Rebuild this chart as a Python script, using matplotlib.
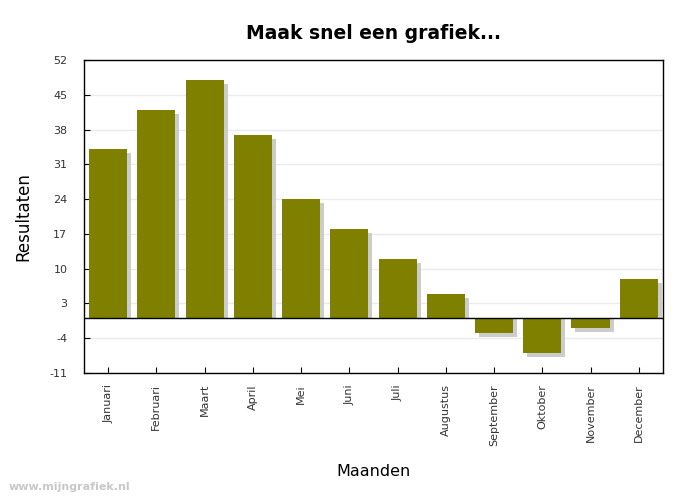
import numpy as np
import matplotlib.pyplot as plt

months = ['Januari', 'Februari', 'Maart', 'April', 'Mei', 'Juni', 'Juli',
          'Augustus', 'September', 'Oktober', 'November', 'December']
values = [34, 42, 48, 37, 24, 18, 12, 5, -3, -7, -2, 8]
yticks = [-11, -4, 3, 10, 17, 24, 31, 38, 45, 52]

plt.rcParams['font.family'] = ['DejaVu Sans']
plt.rcParams['axes.unicode_minus'] = False

fig = plt.figure(figsize=(7, 5), dpi=100)
ax = fig.add_axes([0.12, 0.254, 0.827, 0.626])

x = np.arange(len(months))
ymin, ymax = -11, 52
ax.set_xlim(-0.5, len(months) - 0.5)
ax.set_ylim(ymin, ymax)

# shadow offset: 4 px right and down, in data units
ax_w_px = 0.827 * 700
ax_h_px = 0.626 * 500
dx = 4 * len(months) / ax_w_px
dy = 4 * (ymax - ymin) / ax_h_px

vals = np.array(values, dtype=float)
ax.bar(x + dx, vals - dy, width=0.79, color='#cccccc', zorder=2)
ax.bar(x, vals, width=0.79, color='#808000', zorder=3)

ax.axhline(0, color='black', lw=1, zorder=4)
ax.set_yticks(yticks)
ax.yaxis.grid(True, color='#ebebeb', lw=1)
ax.set_axisbelow(True)
ax.tick_params(axis='both', direction='in', length=4, labelsize=8,
               color='black', labelcolor='#333333')
ax.tick_params(axis='y', pad=12)
ax.tick_params(axis='x', pad=8)
ax.set_xticks(x)
ax.set_xticklabels(months, rotation=90)
for sp in ax.spines.values():
    sp.set_linewidth(1)

ax.set_title('Maak snel een grafiek...', fontsize=13.5, fontweight='bold', pad=15)
ax.set_ylabel('Resultaten', fontsize=12, labelpad=12)
ax.set_xlabel('Maanden', fontsize=11.5, labelpad=13)

fig.text(0.012, 0.02, 'www.mijngrafiek.nl', color='#c8c8c8', fontsize=8, fontweight='bold')

fig.savefig('out.png', dpi=100)
